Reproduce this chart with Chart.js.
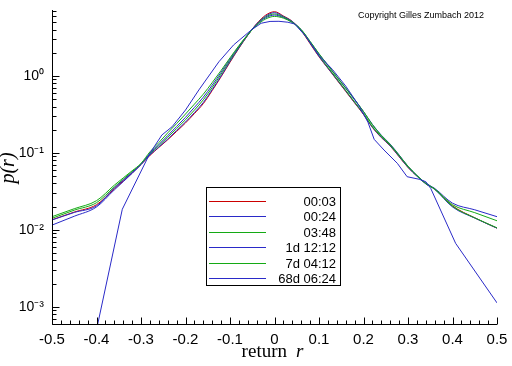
<!DOCTYPE html>
<html><head><meta charset="utf-8">
<script src="https://cdn.jsdelivr.net/npm/chart.js@4"></script>
<style>html,body{margin:0;padding:0;background:#fff}canvas{display:block}</style>
</head><body>
<canvas id="c" width="512" height="366"></canvas>
<script>
// ---- data ----
const seriesLabels = ['00:03', '00:24', '03:48', '1d 12:12', '7d 04:12', '68d 06:24'];
const seriesColors = ['#cc0000', '#2a2ac8', '#14aa14', '#2a2ac8', '#14aa14', '#2a2ac8'];

const rGrid = [-0.5, -0.45, -0.4, -0.36, -0.32, -0.3, -0.28, -0.26, -0.24, -0.22, -0.2, -0.18, -0.16, -0.14, -0.12, -0.1, -0.08, -0.06, -0.04, -0.02, 0,
  0.02, 0.04, 0.06, 0.08, 0.1, 0.12, 0.14, 0.16, 0.18, 0.2, 0.22, 0.24, 0.26, 0.28, 0.3, 0.32, 0.34, 0.36, 0.4, 0.45, 0.5];

const p0003 = [0.0135, 0.017, 0.0212, 0.034, 0.0547, 0.0705, 0.0925, 0.1175, 0.148, 0.19, 0.245, 0.324, 0.437, 0.646, 0.977, 1.51, 2.29, 3.39, 4.79, 6.17, 6.85,
  6.03, 5.13, 3.89, 2.63, 1.78, 1.26, 0.891, 0.631, 0.447, 0.316, 0.214, 0.158, 0.123, 0.0891, 0.0646, 0.0501, 0.0398, 0.0339, 0.0205, 0.0143, 0.0105];
const p0024 = [0.0115, 0.015, 0.0198, 0.033, 0.054, 0.0705, 0.094, 0.119, 0.151, 0.195, 0.252, 0.334, 0.452, 0.665, 1.0, 1.54, 2.32, 3.4, 4.75, 6.0, 6.66,
  5.95, 5.1, 3.92, 2.68, 1.8, 1.27, 0.9, 0.64, 0.452, 0.32, 0.216, 0.16, 0.124, 0.09, 0.065, 0.0498, 0.0395, 0.0335, 0.0198, 0.0142, 0.0105];
const p0348 = [0.0141, 0.018, 0.0225, 0.036, 0.057, 0.0715, 0.097, 0.124, 0.16, 0.207, 0.27, 0.36, 0.49, 0.71, 1.06, 1.6, 2.38, 3.42, 4.7, 5.85, 6.4,
  5.85, 5.05, 3.95, 2.72, 1.85, 1.3, 0.92, 0.65, 0.46, 0.325, 0.22, 0.163, 0.126, 0.092, 0.066, 0.0502, 0.0398, 0.0338, 0.0202, 0.0143, 0.0106];
const p1d1212 = [0.0134, 0.0168, 0.0205, 0.035, 0.0555, 0.071, 0.099, 0.128, 0.168, 0.22, 0.29, 0.39, 0.53, 0.76, 1.12, 1.66, 2.43, 3.45, 4.65, 5.7, 6.2,
  5.75, 5.0, 4.0, 2.8, 1.93, 1.37, 0.97, 0.69, 0.49, 0.345, 0.235, 0.17, 0.13, 0.094, 0.067, 0.051, 0.0405, 0.0345, 0.0222, 0.0182, 0.0148];
const p7d0412 = [0.0148, 0.0188, 0.0239, 0.038, 0.0585, 0.073, 0.103, 0.136, 0.182, 0.24, 0.32, 0.43, 0.58, 0.82, 1.18, 1.72, 2.48, 3.45, 4.55, 5.5, 5.95,
  5.65, 4.95, 4.0, 2.82, 1.95, 1.38, 0.98, 0.7, 0.495, 0.345, 0.232, 0.168, 0.128, 0.093, 0.067, 0.051, 0.0402, 0.034, 0.0212, 0.0167, 0.0131];

const r68d = [-0.4, -0.342, -0.28, -0.253, -0.23, -0.2, -0.17, -0.125, -0.092, -0.052, -0.03, -0.01, 0.01, 0.03, 0.045, 0.07, 0.1, 0.13, 0.16, 0.19,
  0.21, 0.224, 0.246, 0.276, 0.298, 0.325, 0.34, 0.351, 0.407, 0.5];
const p68d = [0.0005, 0.0185, 0.0987, 0.171, 0.219, 0.361, 0.658, 1.53, 2.53, 3.97, 4.85, 5.12, 5.14, 5.0, 4.75, 3.3, 1.85, 1.22, 0.74, 0.41,
  0.25, 0.15, 0.109, 0.0732, 0.049, 0.0454, 0.0422, 0.0346, 0.00667, 0.00112];

const xTickValues = [-0.5, -0.4, -0.3, -0.2, -0.1, 0, 0.1, 0.2, 0.3, 0.4, 0.5];
const xTickLabels = ['-0.5', '-0.4', '-0.3', '-0.2', '-0.1', '0', '0.1', '0.2', '0.3', '0.4', '0.5'];
const yTickValues = [0.001, 0.01, 0.1, 1];
const yTickLabels = ['10\u207B\u00B3', '10\u207B\u00B2', '10\u207B\u00B9', '10\u2070'];
const xTitleWord = 'return';
const xTitleVar = 'r';
const yTitle = 'p(r)';
const copyrightText = 'Copyright Gilles Zumbach 2012';

// ---- build ----
const pSeries = [p0003, p0024, p0348, p1d1212, p7d0412];
const datasets = pSeries.map((p, i) => ({
  label: seriesLabels[i],
  data: rGrid.map((r, j) => ({x: r, y: p[j]})),
  borderColor: seriesColors[i],
  borderWidth: 1,
  pointRadius: 0,
  cubicInterpolationMode: 'monotone',
  order: 6 - i
}));
datasets.push({
  label: seriesLabels[5],
  data: r68d.map((r, j) => ({x: r, y: p68d[j]})),
  borderColor: seriesColors[5],
  borderWidth: 1,
  pointRadius: 0,
  tension: 0,
  order: 0
});

const decor = {
  id: 'decor',
  afterDraw(chart) {
    const ctx = chart.ctx, xs = chart.scales.x, ys = chart.scales.y, a = chart.chartArea;
    ctx.save();
    ctx.strokeStyle = '#000';
    ctx.lineWidth = 1;
    const L = Math.round(a.left) + 0.5, B = Math.round(a.bottom) - 0.5;
    ctx.beginPath();
    ctx.moveTo(L, a.top); ctx.lineTo(L, B); ctx.lineTo(a.right, B);
    // y ticks (inside)
    for (let n = -4; n <= 1; n++) {
      for (let k = 1; k <= 9; k++) {
        const v = k * Math.pow(10, n);
        if (v < ys.min || v > ys.max) continue;
        const y = Math.round(ys.getPixelForValue(v)) + 0.5;
        const len = k === 1 ? 7 : 4;
        ctx.moveTo(L, y); ctx.lineTo(L + len, y);
      }
    }
    // x ticks (inside)
    for (let i = -25; i <= 25; i++) {
      const v = i / 50;
      const x = Math.round(xs.getPixelForValue(v)) + 0.5;
      const len = (i % 5 === 0) ? 7 : 4;
      ctx.moveTo(x, B); ctx.lineTo(x, B - len);
    }
    ctx.stroke();

    // axis titles
    ctx.fillStyle = '#000';
    ctx.textBaseline = 'alphabetic';
    ctx.textAlign = 'left';
    ctx.font = '19px "Liberation Serif", serif';
    const cx = (a.left + a.right) / 2;
    const w1 = ctx.measureText(xTitleWord).width;
    ctx.font = 'italic 19px "Liberation Serif", serif';
    const w2 = ctx.measureText(xTitleVar).width;
    const gap = 9;
    const x0 = cx - 2 - (w1 + gap + w2) / 2;
    ctx.font = '19px "Liberation Serif", serif';
    ctx.fillText(xTitleWord, x0, 357);
    ctx.font = 'italic 19px "Liberation Serif", serif';
    ctx.fillText(xTitleVar, x0 + w1 + gap, 357);

    ctx.save();
    ctx.translate(14, 168);
    ctx.rotate(-Math.PI / 2);
    ctx.textAlign = 'center';
    ctx.font = 'italic 20px "Liberation Serif", serif';
    ctx.fillText(yTitle, 0, 0);
    ctx.restore();

    // copyright
    ctx.font = '9px "Liberation Sans", Arial, sans-serif';
    ctx.textAlign = 'left';
    ctx.textBaseline = 'middle';
    ctx.fillText(copyrightText, 358, 16);

    // legend
    const bx = 206.5, by = 187.5, bw = 134, bh = 98;
    ctx.fillStyle = '#fff';
    ctx.fillRect(bx, by, bw, bh);
    ctx.strokeStyle = '#000';
    ctx.strokeRect(bx, by, bw, bh);
    ctx.font = '13px "Liberation Sans", Arial, sans-serif';
    ctx.textAlign = 'right';
    ctx.textBaseline = 'middle';
    chart.data.datasets.forEach((ds, i) => {
      const y = Math.round(201 + i * 15.4) + 0.5;
      ctx.strokeStyle = ds.borderColor;
      ctx.beginPath();
      ctx.moveTo(209, y); ctx.lineTo(266, y);
      ctx.stroke();
      ctx.fillStyle = '#000';
      ctx.fillText(ds.label, 336, y + 1);
    });
    ctx.restore();
  }
};

new Chart(document.getElementById('c'), {
  type: 'line',
  data: {datasets},
  options: {
    responsive: false,
    animation: false,
    devicePixelRatio: 1,
    layout: {padding: {left: 0, top: 10, right: 15, bottom: 0}},
    plugins: {legend: {display: false}, tooltip: {enabled: false}},
    scales: {
      x: {
        type: 'linear', min: -0.5, max: 0.5,
        grid: {display: false, drawTicks: false},
        border: {display: false},
        afterBuildTicks(s) { s.ticks = xTickValues.map(v => ({value: v})); },
        afterFit(s) { s.height = 41; s.paddingLeft = 0; s.paddingRight = 0; },
        ticks: {
          autoSkip: false, maxRotation: 0, padding: 6, color: '#000',
          font: {family: '"Liberation Sans", Arial, sans-serif', size: 15},
          callback: (v, i) => xTickLabels[i]
        }
      },
      y: {
        type: 'logarithmic', min: 0.000578, max: 7.21,
        grid: {display: false, drawTicks: false},
        border: {display: false},
        afterBuildTicks(s) { s.ticks = yTickValues.map(v => ({value: v, major: true})); },
        afterFit(s) { s.width = 52; s.paddingTop = 0; s.paddingBottom = 0; },
        ticks: {
          autoSkip: false, padding: 8, color: '#000',
          font: {family: '"Liberation Sans", Arial, sans-serif', size: 14},
          callback: (v, i) => yTickLabels[i]
        }
      }
    }
  },
  plugins: [decor]
});
</script>
</body></html>
